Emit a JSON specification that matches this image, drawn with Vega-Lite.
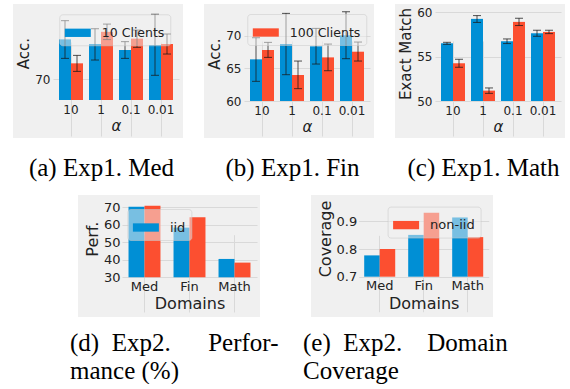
{
  "$schema": "https://vega.github.io/schema/vega-lite/v6.json",
  "background": "white",
  "padding": {"left": 13, "top": 4, "right": 5, "bottom": 0},
  "datasets": {
    "exp1med": [
      {"alpha": "10", "series": "10 Clients", "acc": 73.87, "lo": 72.03, "hi": 75.68},
      {"alpha": "10", "series": "100 Clients", "acc": 71.55, "lo": 70.77, "hi": 72.32},
      {"alpha": "1", "series": "10 Clients", "acc": 73.42, "lo": 71.87, "hi": 74.9},
      {"alpha": "1", "series": "100 Clients", "acc": 74.6, "lo": 73.85, "hi": 75.35},
      {"alpha": "0.1", "series": "10 Clients", "acc": 72.84, "lo": 72.03, "hi": 73.65},
      {"alpha": "0.1", "series": "100 Clients", "acc": 73.94, "lo": 73.1, "hi": 74.77},
      {"alpha": "0.01", "series": "10 Clients", "acc": 73.32, "lo": 70.39, "hi": 76.3},
      {"alpha": "0.01", "series": "100 Clients", "acc": 73.42, "lo": 72.45, "hi": 74.39}
    ],
    "exp1fin": [
      {"alpha": "10", "series": "10 Clients", "acc": 66.38, "lo": 63.01, "hi": 69.69},
      {"alpha": "10", "series": "100 Clients", "acc": 67.81, "lo": 66.68, "hi": 68.98},
      {"alpha": "1", "series": "10 Clients", "acc": 68.72, "lo": 64.03, "hi": 73.42},
      {"alpha": "1", "series": "100 Clients", "acc": 63.98, "lo": 61.89, "hi": 66.12},
      {"alpha": "0.1", "series": "10 Clients", "acc": 68.37, "lo": 65.66, "hi": 71.12},
      {"alpha": "0.1", "series": "100 Clients", "acc": 66.68, "lo": 64.64, "hi": 68.72},
      {"alpha": "0.01", "series": "10 Clients", "acc": 70.05, "lo": 66.48, "hi": 73.67},
      {"alpha": "0.01", "series": "100 Clients", "acc": 67.55, "lo": 66.12, "hi": 69.03}
    ],
    "exp1math": [
      {"alpha": "10", "series": "10 Clients", "em": 56.5, "lo": 56.38, "hi": 56.61},
      {"alpha": "10", "series": "100 Clients", "em": 54.25, "lo": 53.8, "hi": 54.7},
      {"alpha": "1", "series": "10 Clients", "em": 59.25, "lo": 58.85, "hi": 59.62},
      {"alpha": "1", "series": "100 Clients", "em": 51.17, "lo": 50.86, "hi": 51.47},
      {"alpha": "0.1", "series": "10 Clients", "em": 56.73, "lo": 56.47, "hi": 56.99},
      {"alpha": "0.1", "series": "100 Clients", "em": 58.91, "lo": 58.5, "hi": 59.32},
      {"alpha": "0.01", "series": "10 Clients", "em": 57.63, "lo": 57.29, "hi": 57.97},
      {"alpha": "0.01", "series": "100 Clients", "em": 57.78, "lo": 57.59, "hi": 57.97}
    ],
    "exp2perf": [
      {"domain": "Med", "setting": "iid", "perf": 70.3},
      {"domain": "Med", "setting": "non-iid", "perf": 70.9},
      {"domain": "Fin", "setting": "iid", "perf": 58.4},
      {"domain": "Fin", "setting": "non-iid", "perf": 64.3},
      {"domain": "Math", "setting": "iid", "perf": 40.5},
      {"domain": "Math", "setting": "non-iid", "perf": 38.4}
    ],
    "exp2cov": [
      {"domain": "Med", "setting": "iid", "coverage": 0.777},
      {"domain": "Med", "setting": "non-iid", "coverage": 0.8},
      {"domain": "Fin", "setting": "iid", "coverage": 0.851},
      {"domain": "Fin", "setting": "non-iid", "coverage": 0.931},
      {"domain": "Math", "setting": "iid", "coverage": 0.914},
      {"domain": "Math", "setting": "non-iid", "coverage": 0.843}
    ]
  },
  "vconcat": [
    {
      "hconcat": [
        {
          "width": 170, "height": 134,
          "data": {"name": "exp1med"},
          "title": {"text": "(a) Exp1. Med", "anchor": "middle", "dx": 3.5, "offset": 18},
          "encoding": {
            "x": {"field": "alpha", "type": "nominal", "sort": null,
              "scale": {"domain": ["10", "1", "0.1", "0.01"], "range": [40, 166], "paddingInner": 0.2, "paddingOuter": 0.2},
              "axis": {"title": "α", "titleFontStyle": "italic", "offset": -38, "labelPadding": 4, "titlePadding": 3.5, "bandPosition": 0.5}},
            "xOffset": {"field": "series", "type": "nominal", "sort": null, "scale": {"domain": ["10 Clients", "100 Clients"]}}
          },
          "layer": [
            {"mark": {"type": "bar"},
             "encoding": {
               "y": {"field": "acc", "type": "quantitative", "title": "Acc.",
                 "scale": {"domain": [68, 77.1], "range": [96, 2], "nice": false, "zero": false},
                 "axis": {"values": [70], "offset": -40, "labelPadding": 3, "titlePadding": 3}},
               "y2": {"datum": 68},
               "color": {"field": "series", "type": "nominal",
                 "scale": {"domain": ["10 Clients", "100 Clients"], "range": ["#008fd5", "#fc4f30"]},
                 "legend": {"values": ["10 Clients"], "orient": "none", "legendX": 46.3, "legendY": 10.3, "title": null, "symbolType": "M-1,-0.32H1V0.32H-1Z"}}
             }},
            {"mark": {"type": "rule", "color": "#1a1a1a", "opacity": 0.75, "strokeWidth": 1},
             "encoding": {"y": {"field": "lo", "type": "quantitative", "title": "Acc."}, "y2": {"field": "hi"}}},
            {"mark": {"type": "tick", "orient": "horizontal", "size": 8, "thickness": 1, "color": "#1a1a1a", "opacity": 0.75},
             "encoding": {"y": {"field": "lo", "type": "quantitative", "title": "Acc."}}},
            {"mark": {"type": "tick", "orient": "horizontal", "size": 8, "thickness": 1, "color": "#1a1a1a", "opacity": 0.75},
             "encoding": {"y": {"field": "hi", "type": "quantitative", "title": "Acc."}}}
          ]
        },
        {
          "width": 170, "height": 134,
          "data": {"name": "exp1fin"},
          "title": {"text": "(b) Exp1. Fin", "anchor": "middle", "dx": 3.5, "offset": 18},
          "encoding": {
            "x": {"field": "alpha", "type": "nominal", "sort": null,
              "scale": {"domain": ["10", "1", "0.1", "0.01"], "range": [40, 166], "paddingInner": 0.2, "paddingOuter": 0.2},
              "axis": {"title": "α", "titleFontStyle": "italic", "offset": -37, "labelPadding": 4, "titlePadding": 3.5, "bandPosition": 0.5}},
            "xOffset": {"field": "series", "type": "nominal", "sort": null, "scale": {"domain": ["10 Clients", "100 Clients"]}}
          },
          "layer": [
            {"mark": {"type": "bar"},
             "encoding": {
               "y": {"field": "acc", "type": "quantitative", "title": "Acc.",
                 "scale": {"domain": [60, 74.55], "range": [97, 2], "nice": false, "zero": false},
                 "axis": {"values": [60, 65, 70], "offset": -40, "labelPadding": 3, "titlePadding": 3}},
               "y2": {"datum": 60},
               "color": {"field": "series", "type": "nominal",
                 "scale": {"domain": ["10 Clients", "100 Clients"], "range": ["#008fd5", "#fc4f30"]},
                 "legend": {"values": ["100 Clients"], "orient": "none", "legendX": 43.3, "legendY": 10, "title": null, "symbolType": "M-1,-0.32H1V0.32H-1Z"}}
             }},
            {"mark": {"type": "rule", "color": "#1a1a1a", "opacity": 0.75, "strokeWidth": 1},
             "encoding": {"y": {"field": "lo", "type": "quantitative", "title": "Acc."}, "y2": {"field": "hi"}}},
            {"mark": {"type": "tick", "orient": "horizontal", "size": 8, "thickness": 1, "color": "#1a1a1a", "opacity": 0.75},
             "encoding": {"y": {"field": "lo", "type": "quantitative", "title": "Acc."}}},
            {"mark": {"type": "tick", "orient": "horizontal", "size": 8, "thickness": 1, "color": "#1a1a1a", "opacity": 0.75},
             "encoding": {"y": {"field": "hi", "type": "quantitative", "title": "Acc."}}}
          ]
        },
        {
          "width": 170, "height": 134,
          "data": {"name": "exp1math"},
          "title": {"text": "(c) Exp1. Math", "anchor": "middle", "dx": 3.5, "offset": 18},
          "encoding": {
            "x": {"field": "alpha", "type": "nominal", "sort": null,
              "scale": {"domain": ["10", "1", "0.1", "0.01"], "range": [40, 166], "paddingInner": 0.2, "paddingOuter": 0.2},
              "axis": {"title": "α", "titleFontStyle": "italic", "offset": -37, "labelPadding": 4, "titlePadding": 3.5, "bandPosition": 0.5}},
            "xOffset": {"field": "series", "type": "nominal", "sort": null, "scale": {"domain": ["10 Clients", "100 Clients"]}}
          },
          "layer": [
            {"mark": {"type": "bar"},
             "encoding": {
               "y": {"field": "em", "type": "quantitative", "title": "Exact Match",
                 "scale": {"domain": [50, 60.7], "range": [97, 2], "nice": false, "zero": false},
                 "axis": {"values": [50, 55, 60], "offset": -40, "labelPadding": 3, "titlePadding": 3}},
               "y2": {"datum": 50},
               "color": {"field": "series", "type": "nominal",
                 "scale": {"domain": ["10 Clients", "100 Clients"], "range": ["#008fd5", "#fc4f30"]},
                 "legend": null}
             }},
            {"mark": {"type": "rule", "color": "#1a1a1a", "opacity": 0.75, "strokeWidth": 1},
             "encoding": {"y": {"field": "lo", "type": "quantitative", "title": "Exact Match"}, "y2": {"field": "hi"}}},
            {"mark": {"type": "tick", "orient": "horizontal", "size": 8, "thickness": 1, "color": "#1a1a1a", "opacity": 0.75},
             "encoding": {"y": {"field": "lo", "type": "quantitative", "title": "Exact Match"}}},
            {"mark": {"type": "tick", "orient": "horizontal", "size": 8, "thickness": 1, "color": "#1a1a1a", "opacity": 0.75},
             "encoding": {"y": {"field": "hi", "type": "quantitative", "title": "Exact Match"}}}
          ]
        }
      ],
      "spacing": 21,
      "bounds": "flush",
      "resolve": {"scale": {"color": "independent", "x": "independent", "y": "independent", "xOffset": "independent"}}
    },
    {
      "hconcat": [
        {
          "width": 14, "height": 122,
          "view": {"fill": "transparent", "stroke": null},
          "data": {"values": []},
          "mark": {"type": "text"}
        },
        {
          "width": 182, "height": 122,
          "data": {"name": "exp2perf"},
          "title": {"text": ["(d)\u00a0\u00a0Exp2.\u00a0\u00a0\u00a0\u00a0\u00a0\u00a0Perfor-", "mance (%)"], "anchor": "start", "dx": -8, "lineHeight": 28, "offset": 14},
          "mark": {"type": "bar"},
          "encoding": {
            "x": {"field": "domain", "type": "nominal", "sort": null,
              "scale": {"domain": ["Med", "Fin", "Math"], "range": [44, 179], "paddingInner": 0.29, "paddingOuter": 0.145},
              "axis": {"title": "Domains", "offset": -39.7, "labelPadding": 3, "titlePadding": 2.6, "bandPosition": 0.5, "labelFontSize": 13, "titleFontSize": 16}},
            "xOffset": {"field": "setting", "type": "nominal", "sort": null, "scale": {"domain": ["iid", "non-iid"]}},
            "y": {"field": "perf", "type": "quantitative", "title": "Perf.",
              "scale": {"domain": [30, 74.2], "range": [82.3, 5], "nice": false, "zero": false},
              "axis": {"values": [30, 40, 50, 60, 70], "offset": -44, "labelPadding": 2, "titlePadding": 3, "labelFontSize": 13, "titleFontSize": 16}},
            "y2": {"datum": 30},
            "color": {"field": "setting", "type": "nominal",
              "scale": {"domain": ["iid", "non-iid"], "range": ["#008fd5", "#fc4f30"]},
              "legend": {"values": ["iid"], "orient": "none", "legendX": 49.4, "legendY": 14, "title": null, "symbolType": "M-1,-0.32H1V0.32H-1Z", "labelFontSize": 13}}
          }
        },
        {
          "width": 182, "height": 122,
          "data": {"name": "exp2cov"},
          "title": {"text": ["(e)\u00a0\u00a0Exp2.\u00a0\u00a0\u00a0\u00a0Domain", "Coverage"], "anchor": "start", "dx": -8, "lineHeight": 28, "offset": 14},
          "mark": {"type": "bar"},
          "encoding": {
            "x": {"field": "domain", "type": "nominal", "sort": null,
              "scale": {"domain": ["Med", "Fin", "Math"], "range": [47.7, 177.7], "paddingInner": 0.295, "paddingOuter": 0.125},
              "axis": {"title": "Domains", "offset": -40.3, "labelPadding": 3, "titlePadding": 2.6, "bandPosition": 0.5, "labelFontSize": 13, "titleFontSize": 16}},
            "xOffset": {"field": "setting", "type": "nominal", "sort": null, "scale": {"domain": ["iid", "non-iid"]}},
            "y": {"field": "coverage", "type": "quantitative", "title": "Coverage",
              "scale": {"domain": [0.7, 0.976], "range": [81.7, 5.3], "nice": false, "zero": false},
              "axis": {"values": [0.7, 0.8, 0.9], "format": ".1f", "offset": -47.7, "labelPadding": 2, "titlePadding": 3, "labelFontSize": 13, "titleFontSize": 16}},
            "y2": {"datum": 0.7},
            "color": {"field": "setting", "type": "nominal",
              "scale": {"domain": ["iid", "non-iid"], "range": ["#008fd5", "#fc4f30"]},
              "legend": {"values": ["non-iid"], "orient": "none", "legendX": 76.6, "legendY": 11.6, "title": null, "symbolType": "M-1,-0.32H1V0.32H-1Z", "labelFontSize": 13}}
          }
        }
      ],
      "spacing": 51,
      "bounds": "flush",
      "resolve": {"scale": {"color": "independent", "x": "independent", "y": "independent", "xOffset": "independent"}}
    }
  ],
  "spacing": 14,
  "resolve": {"scale": {"color": "independent", "x": "independent", "y": "independent", "xOffset": "independent"}},
  "config": {
    "view": {"fill": "#f0f0f0", "stroke": null},
    "axis": {
      "domain": false, "ticks": false, "grid": true, "gridColor": "#d9d9d9", "gridWidth": 1,
      "labelFont": "DejaVu Sans", "labelFontSize": 12, "labelColor": "#222222", "labelAngle": 0,
      "titleFont": "DejaVu Sans", "titleFontSize": 15, "titleFontWeight": "normal", "titleColor": "#222222"
    },
    "legend": {
      "labelFont": "DejaVu Sans", "labelFontSize": 12.5, "labelColor": "#222222",
      "symbolSize": 676, "symbolStrokeWidth": 0, "symbolOpacity": 1, "labelOffset": 11,
      "padding": 5.5, "fillColor": "rgba(240,240,240,0.5)", "strokeColor": "rgba(200,200,200,0.5)", "cornerRadius": 3
    },
    "title": {
      "font": "Liberation Serif", "fontSize": 25, "fontWeight": "normal", "color": "#000000",
      "orient": "bottom", "baseline": "alphabetic"
    }
  }
}
